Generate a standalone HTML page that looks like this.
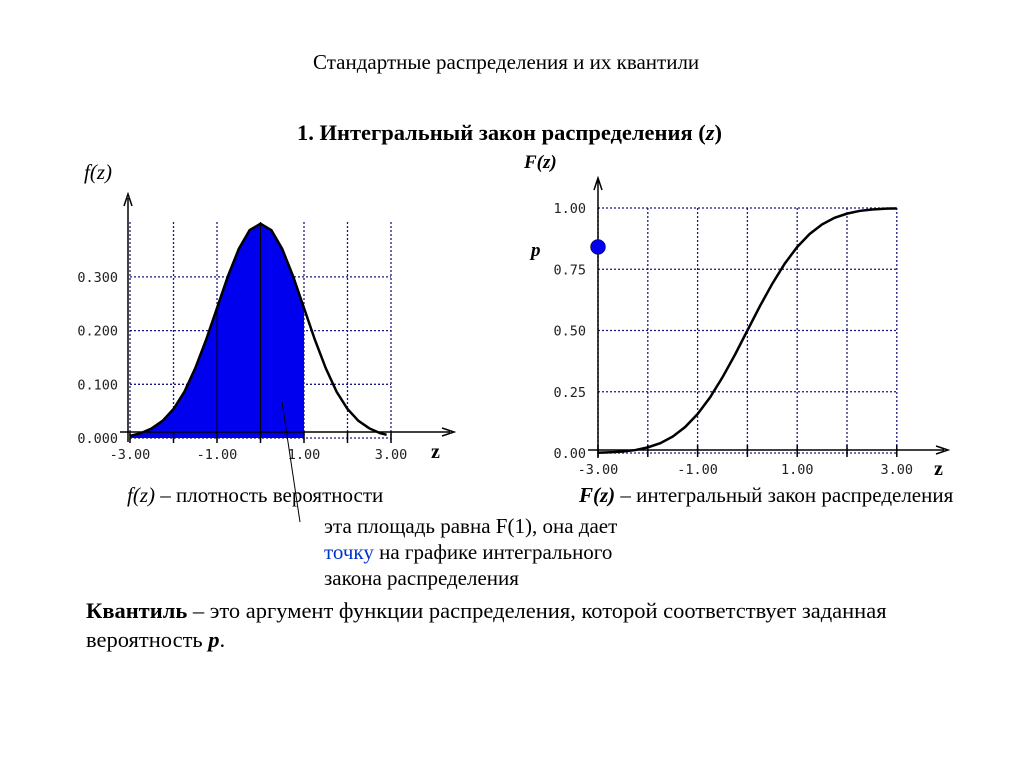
<!DOCTYPE html>
<html><head><meta charset="utf-8"><style>
body{margin:0;width:1024px;height:768px;background:#fff;position:relative;overflow:hidden;font-family:"Liberation Serif","Noto Serif CJK SC",serif;color:#000}
.t{position:absolute;white-space:nowrap;font-size:21px}
svg{position:absolute;left:0;top:0}
.tick{font-family:"DejaVu Sans Mono","Liberation Mono",monospace;font-size:13.5px;fill:#222}
</style></head><body>
<div class="t" style="left:313px;top:50px">Стандартные распределения и их квантили</div>
<div class="t" style="left:297px;top:120px;font-weight:bold;font-size:22.5px">1. Интегральный закон распределения (<i>z</i>)</div>
<div class="t" style="left:84px;top:160px;font-style:italic">f(z)</div>
<div class="t" style="left:524px;top:152px;font-style:italic;font-weight:bold;font-size:19px">F(z)</div>
<div class="t" style="left:127px;top:483px"><i>f(z)</i> – плотность вероятности</div>
<div class="t" style="left:579px;top:483px"><b><i>F(z)</i></b> – интегральный закон распределения</div>
<div class="t" style="left:324px;top:513px;line-height:26px">эта площадь равна F(1), она дает<br><span style="color:#0033cc">точку</span> на графике интегрального<br>закона распределения</div>
<div class="t" style="left:86px;top:596px;line-height:29px;font-size:22.5px"><b>Квантиль</b> – это аргумент функции распределения, которой соответствует заданная<br>вероятность <b><i>p</i></b>.</div>
<svg id="chart" width="1024" height="768"></svg>
<script>
const zTicks=[-3,-2,-1,0,1,2,3];
const zLabels=["-3.00","-1.00","1.00","3.00"];
const zLabelVals=[-3,-1,1,3];
const fTicks=[0,0.1,0.2,0.3];
const fLabels=["0.000","0.100","0.200","0.300"];
const FTicks=[0,0.25,0.5,0.75,1];
const FLabels=["0.00","0.25","0.50","0.75","1.00"];
const zs=[-3,-2.75,-2.5,-2.25,-2,-1.75,-1.5,-1.25,-1,-0.75,-0.5,-0.25,0,0.25,0.5,0.75,1,1.25,1.5,1.75,2,2.25,2.5,2.75,2.9];
const pdf=[0.004,0.009,0.018,0.032,0.054,0.086,0.13,0.183,0.242,0.301,0.352,0.387,0.399,0.387,0.352,0.301,0.242,0.183,0.13,0.086,0.054,0.032,0.018,0.009,0.006];
const cdf=[0.001,0.003,0.006,0.012,0.023,0.04,0.067,0.106,0.159,0.227,0.309,0.401,0.5,0.599,0.691,0.773,0.841,0.894,0.933,0.96,0.977,0.988,0.994,0.997,0.998];
const pVal=0.841;
const shadeTo=1;
const NS="http://www.w3.org/2000/svg";
const svg=document.getElementById('chart');
function mk(tag,attrs,parent){const e=document.createElementNS(NS,tag);for(const k in attrs)e.setAttribute(k,attrs[k]);(parent||svg).appendChild(e);return e;}
const lx=z=>130+(z+3)*43.5, ly=v=>438-v*537;
const rx=z=>598+(z+3)*49.8, ry=v=>453-v*245;
const grid={stroke:'#1a1a80','stroke-width':1.3,'stroke-dasharray':'2,2'};
zTicks.forEach(z=>{const l=mk('line',Object.assign({x1:lx(z),x2:lx(z),y1:222,y2:442},grid));

});
fTicks.forEach((v,i)=>{const l=mk('line',Object.assign({x1:130,x2:391,y1:ly(v),y2:ly(v)},grid));


const t=mk('text',{x:118,y:ly(v)+5,'text-anchor':'end',class:'tick'});t.textContent=fLabels[i];

});
let d=`M${lx(zs[0])},${ly(0)}`;zs.forEach((z,i)=>{if(z<=shadeTo)d+=` L${lx(z)},${ly(pdf[i])}`;});d+=` L${lx(shadeTo)},${ly(0)} Z`;
const area=mk('path',{d:d,fill:'#0000ee'});


[-1,0].forEach(z=>{const l=mk('line',{x1:lx(z),x2:lx(z),y1:ly(0),y2:ly(pdf[zs.indexOf(z)]),stroke:'#000','stroke-width':1});

});
const pc=mk('path',{d:'M'+zs.map((z,i)=>lx(z)+','+ly(pdf[i])).join(' L'),fill:'none',stroke:'#000','stroke-width':2.5});


const la=mk('path',{d:'M128,442 L128,198 M124,206 L128,194 L132,206 M120,432 L450,432 M442,428 L454,432 L442,436',stroke:'#000','stroke-width':1.5,fill:'none'});


zTicks.forEach(z=>{const l=mk('line',{x1:lx(z),x2:lx(z),y1:432,y2:443,stroke:'#000','stroke-width':1.5});

});
zLabelVals.forEach((z,i)=>{const t=mk('text',{x:lx(z),y:459,'text-anchor':'middle',class:'tick'});t.textContent=zLabels[i];

});
const lz=mk('text',{x:431,y:458,'font-size':20,'font-weight':'bold','font-family':'Liberation Serif'});lz.textContent='z';


zTicks.forEach(z=>{const l=mk('line',Object.assign({x1:rx(z),x2:rx(z),y1:208,y2:456},grid));

});
FTicks.forEach((v,i)=>{const l=mk('line',Object.assign({x1:598,x2:897,y1:ry(v),y2:ry(v)},grid));


const t=mk('text',{x:586,y:ry(v)+5,'text-anchor':'end',class:'tick'});t.textContent=FLabels[i];

});
const cc=mk('path',{d:'M'+zs.map((z,i)=>rx(z)+','+ry(cdf[i])).join(' L')+` L${rx(3)},${ry(cdf[cdf.length-1])}`,fill:'none',stroke:'#000','stroke-width':2.5});


const ra=mk('path',{d:'M598,458 L598,180 M594,190 L598,178 L602,190 M588,450 L944,450 M936,446 L948,450 L936,454',stroke:'#000','stroke-width':1.5,fill:'none'});


zTicks.forEach(z=>{const l=mk('line',{x1:rx(z),x2:rx(z),y1:445,y2:457,stroke:'#000','stroke-width':1.5});

});
zLabelVals.forEach((z,i)=>{const t=mk('text',{x:rx(z),y:474,'text-anchor':'middle',class:'tick'});t.textContent=zLabels[i];

});
const rz=mk('text',{x:934,y:475,'font-size':20,'font-weight':'bold','font-family':'Liberation Serif'});rz.textContent='z';


const dot=mk('circle',{cx:598,cy:ry(pVal),r:7.5,fill:'#0000ee',stroke:'#000','stroke-width':0.5});


const pl=mk('text',{x:531,y:ry(pVal)+9,'font-size':19,'font-weight':'bold','font-style':'italic','font-family':'Liberation Serif'});pl.textContent='p';


const ap=mk('line',{x1:300,y1:522,x2:282,y2:402,stroke:'#000','stroke-width':1});


</script>
</body></html>
